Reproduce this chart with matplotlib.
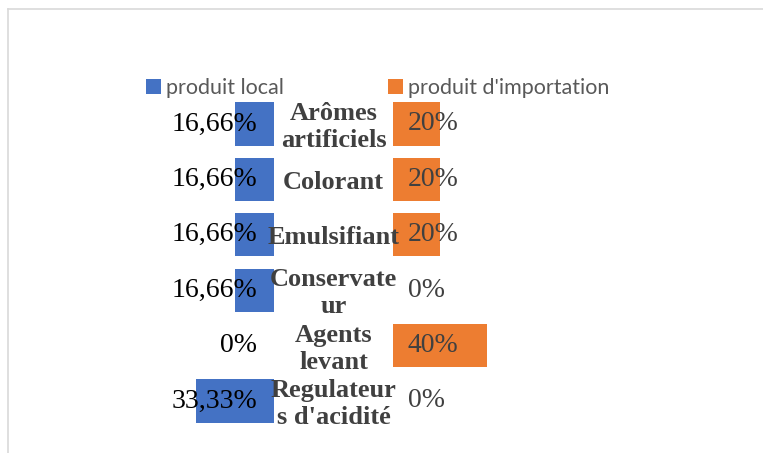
import matplotlib.pyplot as plt
from matplotlib.lines import Line2D
import numpy as np

categories = ["Arômes\nartificiels", "Colorant", "Emulsifiant",
              "Conservate\nur", "Agents\nlevant", "Regulateur\ns d'acidité"]
local = [16.66, 16.66, 16.66, 16.66, 0, 33.33]
importation = [20, 20, 20, 0, 40, 0]


def pct(v):
    if float(v).is_integer():
        return "%d%%" % v
    return ("%.2f" % v).replace('.', ',') + "%"


W, H = 763, 453
fig = plt.figure(figsize=(W / 100, H / 100), dpi=100)
fig.set_facecolor('white')

# axes geometry in pixels
top, bottom = 96.3, 428.7
left_l, right_l = 157, 274
left_r, right_r = 393, 510
ax_l = fig.add_axes([left_l / W, 1 - bottom / H, (right_l - left_l) / W, (bottom - top) / H])
ax_r = fig.add_axes([left_r / W, 1 - bottom / H, (right_r - left_r) / W, (bottom - top) / H])

y = np.arange(len(categories))
bar_h = 0.78
b1 = ax_l.barh(y, local, height=bar_h, color='#4472C4', linewidth=0,
               label='produit local')
b2 = ax_r.barh(y, importation, height=bar_h, color='#ED7D31', linewidth=0,
               label="produit d'importation")

for ax in (ax_l, ax_r):
    ax.set_xlim(0, 50)
    ax.set_ylim(len(categories) - 0.5, -0.5)
    ax.axis('off')
ax_l.invert_xaxis()

for i, v in enumerate(local):
    ax_l.text(7.2, i, pct(v), ha='right', va='center', fontsize=20,
              family='Liberation Serif', color='#000000')
for i, v in enumerate(importation):
    ax_r.text(6.4, i, pct(v), ha='left', va='center', fontsize=20,
              family='Liberation Serif', color='#404040')

# category labels centred between the two halves, drawn above both axes
for i, c in enumerate(categories):
    yc = ax_l.transData.transform((0, i))[1]
    fig.text(333.5 / W, (yc - 3) / fig.bbox.height, c, ha='center', va='center', fontsize=19,
             family='Liberation Serif', fontweight='bold', color='#404040',
             linespacing=1.22, zorder=5)

fig.legend(handles=[b1, b2], loc='center left', bbox_to_anchor=(137 / W, 1 - 88 / H), ncol=2,
           frameon=False, prop={'family': 'Lato', 'size': 15.5},
           handlelength=0.7, handleheight=0.7, handletextpad=0.25, columnspacing=4.83,
           labelcolor='#595959', borderaxespad=0)

# light chart frame (top and left)
fig.add_artist(Line2D([7.5 / W, 1], [1 - 8.5 / H, 1 - 8.5 / H], transform=fig.transFigure,
                      color='#d9d9d9', linewidth=1.2))
fig.add_artist(Line2D([8 / W, 8 / W], [0, 1 - 8.5 / H], transform=fig.transFigure,
                      color='#d9d9d9', linewidth=1.2))

fig.savefig('out.png', dpi=100, facecolor='white')
